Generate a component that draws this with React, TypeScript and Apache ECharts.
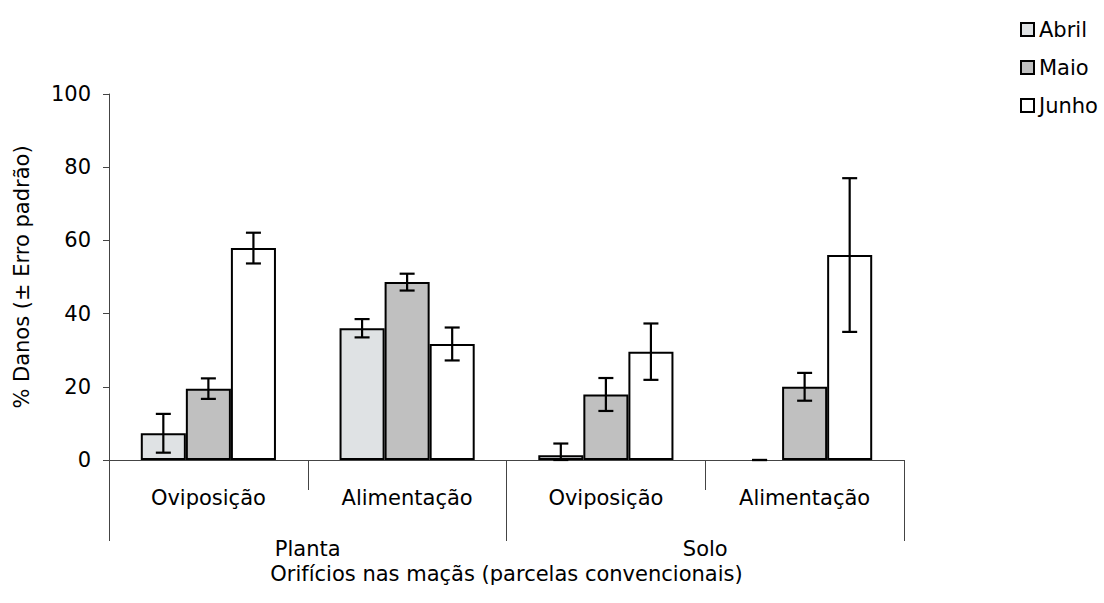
import React, { useEffect, useRef } from "react";
import * as echarts from "echarts";

const innerCategories = ["Oviposição", "Alimentação", "Oviposição", "Alimentação"];
const outerCategories = ["Planta", "Solo"];
const months = ["Abril", "Maio", "Junho"];
const abril = [7.3, 36, 1.3, 0];
const abrilErr = [5.3, 2.5, 3.2, 0];
const maio = [19.5, 48.6, 17.9, 20];
const maioErr = [2.8, 2.3, 4.5, 3.8];
const junho = [57.9, 31.7, 29.6, 56];
const junhoErr = [4.2, 4.5, 7.7, 21];
const yTicks = [0, 20, 40, 60, 80, 100];

const FONT = "DejaVu Sans, Arial, sans-serif";
const FS = 21;
const GAP = 0.32;

export default function App() {
  const ref = useRef<HTMLDivElement>(null);
  useEffect(() => {
    if (!ref.current) return;
    const chart = echarts.init(ref.current, null, { renderer: "svg" });
    const colors = ["#dfe2e4", "#c0c0c0", "#ffffff"];
    const values = [abril, maio, junho];
    const errs = [abrilErr, maioErr, junhoErr];

    const barSeries = months.map((m, i) => ({
      name: m,
      type: "bar",
      xAxisIndex: 0,
      yAxisIndex: 0,
      barGap: "0%",
      barCategoryGap: GAP * 100 + "%",
      data: values[i].map((v) =>
        v === 0 ? { value: v, itemStyle: { borderWidth: 0 } } : v
      ),
      itemStyle: { color: colors[i], borderColor: "#000", borderWidth: 2 },
      z: 2,
    }));

    const errSeries = months.map((m, i) => ({
      name: m + "_err",
      type: "custom",
      xAxisIndex: 0,
      yAxisIndex: 0,
      z: 5,
      encode: { x: 0, y: 1 },
      data: values[i].map((v, k) => [k, v, errs[i][k]]),
      renderItem: (params: any, api: any) => {
        const x = api.value(0);
        const v = api.value(1);
        const e = api.value(2);
        const catW = api.size([1, 0])[0];
        const barW = (catW * (1 - GAP)) / 3;
        const cx = api.coord([x, 0])[0] + (i - 1) * barW;
        const yt = api.coord([x, v + e])[1];
        const yb = api.coord([x, Math.max(0, v - e)])[1];
        const half = 7.5;
        const st = { stroke: "#000", lineWidth: 2.2 };
        return {
          type: "group",
          children: [
            { type: "line", shape: { x1: cx, y1: yt, x2: cx, y2: yb }, style: st },
            { type: "line", shape: { x1: cx - half, y1: yt, x2: cx + half, y2: yt }, style: st },
            { type: "line", shape: { x1: cx - half, y1: yb, x2: cx + half, y2: yb }, style: st },
          ],
        };
      },
    }));

    chart.setOption({
      animation: false,
      textStyle: { fontFamily: FONT, color: "#000" },
      legend: {
        data: months,
        orient: "vertical",
        left: 1015,
        top: 14,
        icon: "rect",
        itemWidth: 13,
        itemHeight: 13,
        itemGap: 17,
        textStyle: { fontFamily: FONT, fontSize: FS, color: "#000" },
        selectedMode: false,
      },
      grid: { left: 109, right: 200, top: 94, bottom: 143, containLabel: false },
      xAxis: [
        {
          type: "category",
          data: innerCategories,
          position: "bottom",
          axisLine: { show: true, lineStyle: { color: "#444", width: 1 } },
          axisTick: { show: true, interval: 0, length: 30, lineStyle: { color: "#444" } },
          axisLabel: { interval: 0, margin: 27, fontSize: FS, color: "#000", fontFamily: FONT },
        },
        {
          type: "category",
          data: outerCategories,
          position: "bottom",
          axisLine: { show: false },
          axisTick: { show: true, interval: 0, length: 81, lineStyle: { color: "#444" } },
          axisLabel: { interval: 0, margin: 78, fontSize: FS, color: "#000", fontFamily: FONT },
          name: "Orifícios nas maçãs (parcelas convencionais)",
          nameLocation: "middle",
          nameGap: 99,
          nameTextStyle: { fontSize: FS, color: "#000", fontFamily: FONT },
        },
      ],
      yAxis: {
        type: "value",
        min: yTicks[0],
        max: yTicks[yTicks.length - 1],
        interval: 20,
        axisLine: { show: true, lineStyle: { color: "#444" } },
        axisTick: { show: true, length: 6, lineStyle: { color: "#444" } },
        splitLine: { show: false },
        axisLabel: { fontSize: FS, color: "#000", margin: 18, fontFamily: FONT },
        name: "% Danos (± Erro padrão)",
        nameLocation: "middle",
        nameGap: 77,
        nameTextStyle: { fontSize: FS, color: "#000", fontFamily: FONT },
      },
      series: [...barSeries, ...errSeries],
    });
    return () => chart.dispose();
  }, []);
  return <div ref={ref} style={{ width: 1104, height: 603, position: "absolute", left: 0, top: 0 }} />;
}
